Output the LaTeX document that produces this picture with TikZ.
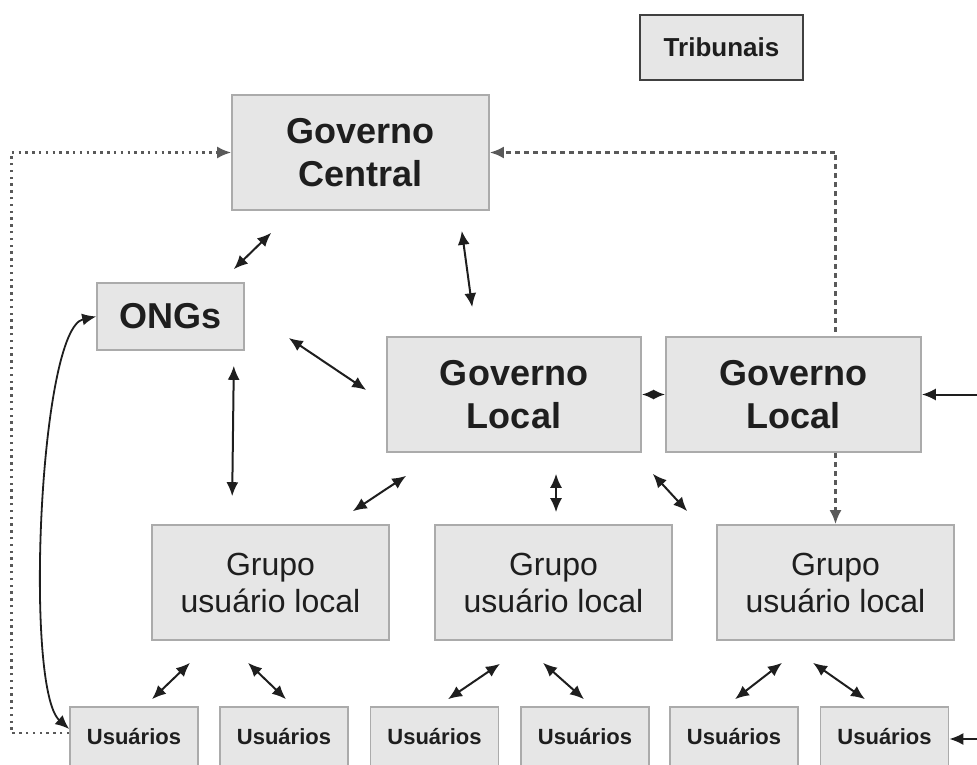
\documentclass[tikz,border=0pt]{standalone}
\usepackage{fontspec}
\setmainfont{Liberation Sans}
\usetikzlibrary{arrows.meta,backgrounds}
\definecolor{boxfill}{HTML}{E6E6E6}
\definecolor{boxline}{HTML}{ABABAB}
\definecolor{ink}{HTML}{1E1E1E}
\tikzset{
  caixa/.style={draw=boxline,fill=boxfill,line width=.8pt,inner sep=0pt,align=center,text=ink},
  grande/.style={caixa,font=\bfseries\fontsize{18}{21.5}\selectfont,minimum height=57.5pt},
  grupo/.style={caixa,font=\fontsize{16}{18.5}\selectfont,minimum width=118.5pt,minimum height=57.5pt},
  usuario/.style={caixa,font=\bfseries\fontsize{11}{13}\selectfont,minimum width=64pt,minimum height=30pt},
  dupla/.style={{Latex[length=7pt,width=6pt]}-{Latex[length=7pt,width=6pt]},line width=1pt,draw=ink},
  simples/.style={-{Latex[length=7pt,width=6pt]},line width=1pt,draw=ink},
  pontilhado/.style={-{Latex[length=7pt,width=6pt]},draw=black!65,line width=1.3pt,dash pattern=on 1.2pt off 2.2pt},
  tracejado/.style={{Latex[length=7pt,width=6pt]}-{Latex[length=7pt,width=6pt]},draw=black!65,line width=1.3pt,dash pattern=on 2.5pt off 2pt}
}
\begin{document}
\begin{tikzpicture}[x=.5pt,y=-.5pt]
  \useasboundingbox (0,0) rectangle (977,764);
  % caixas
  \node[caixa,draw=black!75,line width=1.4pt,font=\bfseries\fontsize{13}{15}\selectfont,
        minimum width=81.5pt,minimum height=32.5pt] (trib) at (721.5,47.5) {Tribunais};
  \node[grande,minimum width=128.5pt] (gc) at (360.5,152.5) {Governo\\Central};
  \node[grande,minimum width=73.5pt,minimum height=33.5pt] (ongs) at (170.5,316.5) {ONGs};
  \node[grande,minimum width=127pt] (glA) at (514,394.5) {Governo\\Local};
  \node[grande,minimum width=127.5pt] (glB) at (793.5,394.5) {Governo\\Local};
  \node[grupo] (grpA) at (270.5,582.5) {Grupo\\usuário local};
  \node[grupo] (grpB) at (553.5,582.5) {Grupo\\usuário local};
  \node[grupo] (grpC) at (835.5,582.5) {Grupo\\usuário local};
  \foreach \n/\x in {1/134,2/284,3/434.5,4/585,5/734,6/884.5}
    \node[usuario] (usr\n) at (\x,737) {Usuários};
  % ligacoes
  \draw[dupla] ([shift={(40,22)}]gc.south west) -- ([shift={(-11,-13)}]ongs.north east);
  \draw[dupla] ([shift={(-28,20)}]gc.south east) -- ([shift={(86,-29)}]glA.north west);
  \draw[dupla] ([shift={(44,21.5)}]ongs.east) -- ([shift={(-20,-4.5)}]glA.west);
  \draw[dupla] ([shift={(-11,15)}]ongs.south east) -- ([shift={(81,-28)}]grpA.north west);
  \draw[dupla] ([shift={(20,23)}]glA.south west) -- ([shift={(-37,-13)}]grpA.north east);
  \draw[dupla] ([shift={(42,21)}]glA.south) -- ([shift={(42,-12)}]grpB.north -| glA.south);
  \draw[dupla] ([shift={(11,21)}]glA.south east) -- ([shift={(-29,-13)}]grpC.north west);
  \draw[dupla,{Latex[length=6pt,width=5pt]}-{Latex[length=6pt,width=5pt]}] (glA.east) -- (glB.west);
  \draw[dupla] ([shift={(-80.5,22)}]grpA.south) -- ([shift={(18,-7)}]usr1.north);
  \draw[dupla] ([shift={(-22.5,22)}]grpA.south) -- ([shift={(2,-7)}]usr2.north);
  \draw[dupla] ([shift={(-53.5,23)}]grpB.south) -- ([shift={(13.5,-7)}]usr3.north);
  \draw[dupla] ([shift={(-10.5,22)}]grpB.south) -- ([shift={(-1,-7)}]usr4.north);
  \draw[dupla] ([shift={(-53.5,22)}]grpC.south) -- ([shift={(1,-7)}]usr5.north);
  \draw[dupla] ([shift={(-22.5,22)}]grpC.south) -- ([shift={(-19.5,-7)}]usr6.north);
  \draw[simples] ([xshift=28pt]glB.east) -- (glB.east);
  \draw[simples] ([xshift=14.5pt,yshift=-1pt]usr6.east) -- ([yshift=-1pt]usr6.east);
  \draw[dupla,line width=.9pt] (ongs.west) .. controls +(-57,12) and +(-45,-40) .. ([yshift=4pt]usr1.west);
  \draw[pontilhado] ([yshift=2pt]usr1.west) -- ++(-58,0) |- (gc.west);
  \begin{scope}[on background layer]
    \draw[tracejado] (grpC.north) |- (gc.east);
  \end{scope}
\end{tikzpicture}
\end{document}
